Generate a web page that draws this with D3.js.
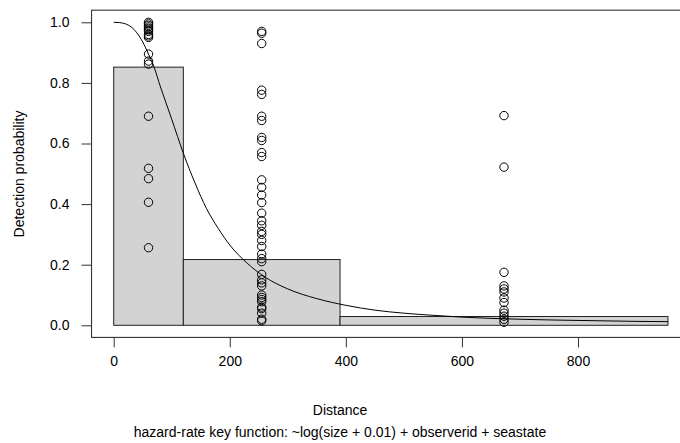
<!DOCTYPE html>
<html>
<head>
<meta charset="utf-8">
<script src="https://cdn.jsdelivr.net/npm/d3@7"></script>
<style>
  html, body { margin: 0; padding: 0; background: #fff; }
  svg { display: block; font-family: "Liberation Sans", Arial, Helvetica, sans-serif; }
</style>
</head>
<body>
<svg id="chart" width="680" height="443"></svg>
<script>
// Histogram bins (distance cutpoints) and scaled heights
const binEdges = [0, 120, 390, 955];
const binHeights = [0.852, 0.217, 0.029];

// Fitted detection function (hazard-rate)
const curveDist = [0, 10, 20, 30, 40, 50, 60, 70, 80, 90, 100, 120, 140, 160, 180, 200, 230, 260, 300, 350, 400, 450, 500, 550, 600, 700, 800, 900, 955];
const curveProb = [1.0, 0.999, 0.995, 0.985, 0.965, 0.935, 0.895, 0.85, 0.79, 0.735, 0.68, 0.568, 0.47, 0.385, 0.32, 0.265, 0.205, 0.16, 0.12, 0.088, 0.066, 0.05, 0.04, 0.033, 0.027, 0.02, 0.016, 0.013, 0.012];

// Observation-level detection probabilities plotted at bin mid-points
const pointDist = [60, 255, 672.5];
const probsBin1 = [1.0, 0.995, 0.99, 0.985, 0.98, 0.975, 0.97, 0.96, 0.955, 0.95, 0.895, 0.872, 0.862, 0.69, 0.518, 0.484, 0.406, 0.256];
const probsBin2 = [0.97, 0.964, 0.93, 0.776, 0.762, 0.69, 0.676, 0.62, 0.61, 0.57, 0.557, 0.48, 0.455, 0.43, 0.405, 0.37, 0.345, 0.33, 0.31, 0.3, 0.28, 0.26, 0.235, 0.22, 0.21, 0.168, 0.15, 0.14, 0.13, 0.1, 0.092, 0.085, 0.078, 0.06, 0.055, 0.04, 0.02, 0.015];
const probsBin3 = [0.692, 0.522, 0.175, 0.13, 0.12, 0.11, 0.09, 0.075, 0.05, 0.04, 0.03, 0.02, 0.01];

const xTicks = [0, 200, 400, 600, 800];
const yTicks = [0, 0.2, 0.4, 0.6, 0.8, 1.0];

const xLabel = "Distance";
const subLabel = "hazard-rate key function: ~log(size + 0.01) + observerid + seastate";
const yLabel = "Detection probability";

const svg = d3.select("#chart");
const x = d3.scaleLinear().domain([0, 800]).range([113.7, 578]);
const y = d3.scaleLinear().domain([0, 1]).range([325.3, 22.3]);

// plot region (4% expansion like R)
const boxLeft = x(-38.2), boxRight = x(993.2), boxTop = y(1.04), boxBottom = y(-0.04);

// bars
const bins = binHeights.map((h, i) => ({x0: binEdges[i], x1: binEdges[i + 1], h}));
svg.append("g").selectAll("rect").data(bins).join("rect")
  .attr("x", d => x(d.x0)).attr("y", d => y(d.h))
  .attr("width", d => x(d.x1) - x(d.x0)).attr("height", d => y(0) - y(d.h))
  .attr("fill", "#d3d3d3").attr("stroke", "#222").attr("stroke-width", 1);

// curve
const line = d3.line().x(d => x(d[0])).y(d => y(d[1])).curve(d3.curveMonotoneX);
svg.append("path").datum(curveDist.map((d, i) => [d, curveProb[i]]))
  .attr("d", line).attr("fill", "none").attr("stroke", "#000").attr("stroke-width", 1);

// points
const pts = [];
[probsBin1, probsBin2, probsBin3].forEach((arr, i) => arr.forEach(p => pts.push([pointDist[i], p])));
svg.append("g").selectAll("circle").data(pts).join("circle")
  .attr("cx", d => x(d[0])).attr("cy", d => y(d[1])).attr("r", 4.2)
  .attr("fill", "none").attr("stroke", "#000").attr("stroke-width", 1);

// box
svg.append("rect").attr("x", boxLeft).attr("y", boxTop)
  .attr("width", boxRight - boxLeft).attr("height", boxBottom - boxTop)
  .attr("fill", "none").attr("stroke", "#333").attr("stroke-width", 1.1);

// x axis
const xa = svg.append("g").attr("transform", `translate(0,${boxBottom})`)
  .call(d3.axisBottom(x).tickValues(xTicks).tickFormat(d3.format("d")).tickSize(10).tickPadding(9));
xa.select(".domain").remove();
xa.selectAll("line").attr("stroke", "#333");
xa.selectAll("text").attr("font-size", 14).attr("fill", "#000").attr("font-family", "Liberation Sans, Arial, sans-serif");

// y axis
const ya = svg.append("g").attr("transform", `translate(${boxLeft},0)`)
  .call(d3.axisLeft(y).tickValues(yTicks).tickFormat(d3.format(".1f")).tickSize(10).tickPadding(12));
ya.select(".domain").remove();
ya.selectAll("line").attr("stroke", "#333");
ya.selectAll("text").attr("font-size", 14).attr("fill", "#000").attr("font-family", "Liberation Sans, Arial, sans-serif");

// labels
svg.append("text").attr("x", 340).attr("y", 415).attr("text-anchor", "middle")
  .attr("font-size", 14).text(xLabel);
svg.append("text").attr("x", 340).attr("y", 437).attr("text-anchor", "middle")
  .attr("font-size", 14).text(subLabel);
svg.append("text").attr("transform", "translate(24,174) rotate(-90)").attr("text-anchor", "middle")
  .attr("font-size", 14).text(yLabel);
</script>
</body>
</html>
